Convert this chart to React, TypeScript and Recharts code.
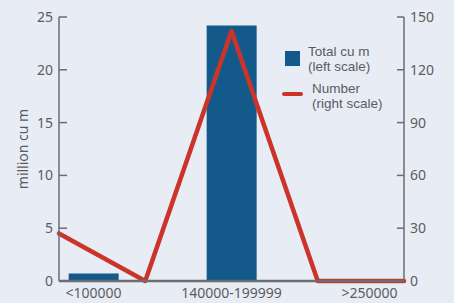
import React from "react";
import { ComposedChart, Bar, Line, XAxis, YAxis } from "recharts";

const categories = ["<100000", "100000-139999", "140000-199999", "200000-249999", ">250000"];
const totalCuM = [0.7, 0, 24.2, 0, 0];
const numberCount = [27, 0, 142, 0, 0];
const leftTicks = [0, 5, 10, 15, 20, 25];
const rightTicks = [0, 30, 60, 90, 120, 150];
const shownLabels = ["<100000", "140000-199999", ">250000"];

const data = categories.map((c, i) => ({ cat: c, total: totalCuM[i], number: numberCount[i] }));

const AXIS = "#6b6d70";
const TEXT = "#5a5c60";
const BAR = "#135a8b";
const LINE = "#cc3329";
const BG = "#e8ecf5";
const FONT = "'Noto Sans', 'Open Sans', sans-serif";
const LEGEND_FONT = "'Liberation Sans', Arial, sans-serif";

const LeftTick = (props: any) => {
  const { x, y, payload } = props;
  return (
    <g>
      <line x1={x} y1={y} x2={x + 8} y2={y} stroke={AXIS} strokeWidth={1.5} />
      <text x={x - 6} y={y} dy={5} textAnchor="end" fill={TEXT} fontSize={14} fontFamily={FONT}>
        {payload.value}
      </text>
    </g>
  );
};

const RightTick = (props: any) => {
  const { x, y, payload } = props;
  return (
    <g>
      <line x1={x - 7} y1={y} x2={x} y2={y} stroke={AXIS} strokeWidth={1.5} />
      <text x={x + 6} y={y} dy={5} textAnchor="start" fill={TEXT} fontSize={14} fontFamily={FONT}>
        {payload.value}
      </text>
    </g>
  );
};

const XTick = (props: any) => {
  const { x, y, payload } = props;
  if (!shownLabels.includes(payload.value)) return null;
  return (
    <text x={x} y={y} dy={17} textAnchor="middle" fill={TEXT} fontSize={14} fontFamily={FONT}>
      {payload.value}
    </text>
  );
};

const lineStyle: React.CSSProperties = { position: "absolute", whiteSpace: "nowrap", lineHeight: "15.2px", height: 15.2 };

const LegendBox = () => (
  <div style={{ position: "absolute", left: 282, top: 42, width: 120, height: 90, fontFamily: LEGEND_FONT, fontSize: 13.5, color: TEXT }}>
    <div style={{ position: "absolute", left: 3, top: 9, width: 15, height: 15, background: BAR }} />
    <div style={{ ...lineStyle, left: 26, top: 2 }}>Total cu m</div>
    <div style={{ ...lineStyle, left: 26, top: 17.2 }}>(left scale)</div>
    <div style={{ position: "absolute", left: 0, top: 50, width: 21, height: 4, borderRadius: 2, background: LINE }} />
    <div style={{ ...lineStyle, left: 30, top: 39 }}>Number</div>
    <div style={{ ...lineStyle, left: 30, top: 54.2 }}>(right scale)</div>
  </div>
);

export default function App() {
  return (
    <div style={{ position: "absolute", left: 0, top: 0, width: 454, height: 303, background: BG }}>
      <ComposedChart width={454} height={303} data={data} margin={{ top: 17, right: 0, left: 0, bottom: 0 }} barCategoryGap="14%">
        <XAxis
          xAxisId="bar"
          dataKey="cat"
          interval={0}
          height={22}
          tick={<XTick />}
          tickLine={false}
          tickSize={0}
          tickMargin={0}
          axisLine={{ stroke: AXIS, strokeWidth: 2.5 }}
        />
        <XAxis xAxisId="line" dataKey="cat" scale="point" padding={{ left: 0, right: 0 }} hide />
        <YAxis
          yAxisId="left"
          orientation="left"
          width={59}
          domain={[0, 25]}
          ticks={leftTicks}
          interval={0}
          tick={<LeftTick />}
          tickLine={false}
          tickSize={0}
          tickMargin={0}
          axisLine={{ stroke: AXIS, strokeWidth: 1.5 }}
          label={{ value: "million cu m", angle: -90, position: "insideLeft", offset: 23, fill: TEXT, fontSize: 14, fontFamily: FONT, style: { textAnchor: "middle" } }}
        />
        <YAxis
          yAxisId="right"
          orientation="right"
          width={50}
          domain={[0, 150]}
          ticks={rightTicks}
          interval={0}
          tick={<RightTick />}
          tickLine={false}
          tickSize={0}
          tickMargin={0}
          axisLine={{ stroke: AXIS, strokeWidth: 1.5 }}
        />
        <Bar xAxisId="bar" yAxisId="left" dataKey="total" fill={BAR} isAnimationActive={false} />
        <Line
          xAxisId="line"
          yAxisId="right"
          dataKey="number"
          stroke={LINE}
          strokeWidth={4.5}
          strokeLinejoin="round"
          strokeLinecap="round"
          dot={false}
          activeDot={false}
          isAnimationActive={false}
        />
      </ComposedChart>
      <LegendBox />
    </div>
  );
}
